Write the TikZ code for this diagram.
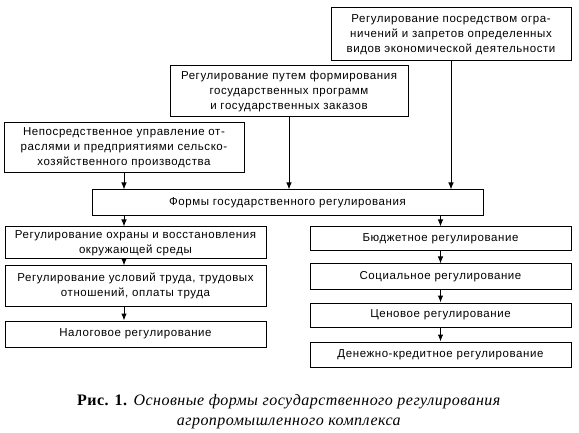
\documentclass[tikz,border=0pt]{standalone}
\usepackage{fontspec}
\setmainfont[LetterSpace=5]{Liberation Sans}
\newfontfamily\capfont[LetterSpace=3]{Liberation Serif}
\usetikzlibrary{arrows.meta}

\begin{document}
\begin{tikzpicture}[x=1pt,y=-1pt,
                    form/.style={draw=black,line width=1pt,align=center,inner sep=0pt,
                                 font=\fontsize{11.5}{15}\selectfont},
                    link/.style={-{Latex[length=7pt,width=5.5pt]},line width=1pt}
                ]
                    \useasboundingbox (0,0) rectangle (579,433);
                    % upper boxes
                    \node[form,minimum width=240pt,minimum height=53pt] (ogran) at (451,34.5)
                        {Регулирование посредством огра-\\ничений и запретов определенных\\видов экономической деятельности};
                    \node[form,minimum width=238pt,minimum height=51pt] (progr) at (289,91.5)
                        {Регулирование путем формирования\\государственных программ\\и государственных заказов};
                    \node[form,minimum width=240pt,minimum height=50pt] (upravl) at (124,148)
                        {Непосредственное управление от-\\раслями и предприятиями сельско-\\хозяйственного производства};
                    \node[form,minimum width=391pt,minimum height=26pt] (formy) at (287.5,203)
                        {Формы государственного регулирования};
                    % left column
                    \node[form,minimum width=261pt,minimum height=32pt] (ohrana) at (135.5,243)
                        {Регулирование охраны и восстановления\\окружающей среды};
                    \node[form,minimum width=261pt,minimum height=40pt] (trud) at (135.5,286)
                        {Регулирование условий труда, трудовых\\отношений, оплаты труда};
                    \node[form,minimum width=261pt,minimum height=26pt] (nalog) at (135.5,334)
                        {Налоговое регулирование};
                    % right column
                    \node[form,minimum width=261pt,minimum height=24pt] (budzh) at (440.5,239) {Бюджетное регулирование};
                    \node[form,minimum width=261pt,minimum height=25pt] (soc) at (440.5,276.5) {Социальное регулирование};
                    \node[form,minimum width=261pt,minimum height=24pt] (cen) at (440.5,315) {Ценовое регулирование};
                    \node[form,minimum width=261pt,minimum height=25pt] (kredit) at (440.5,354.5) {Денежно-кредитное регулирование};
                    % arrows
                    \foreach \a in {ogran,progr,upravl}
                        {
                        \draw[link] (\a) -- (\a |- formy.north);
                    }
                    \draw[link] (formy.south -| upravl) -- (ohrana.north -| upravl);
                    \draw[link] (ohrana.south -| upravl) -- (trud.north -| upravl);
                    \draw[link] (trud.south -| upravl) -- (nalog.north -| upravl);
                    \draw[link] (formy.south -| budzh) -- (budzh);
                    \draw[link] (budzh) -- (soc);
                    \draw[link] (soc) -- (cen);
                    \draw[link] (cen) -- (kredit);
                    % caption
                    \node[align=center,font=\capfont\fontsize{16}{20}\selectfont] (podpis) at (289,411.5)
                        {\textbf{Рис. 1.} \textit{Основные формы государственного регулирования}\\\textit{агропромышленного комплекса}};
                \end{tikzpicture}
\end{document}
